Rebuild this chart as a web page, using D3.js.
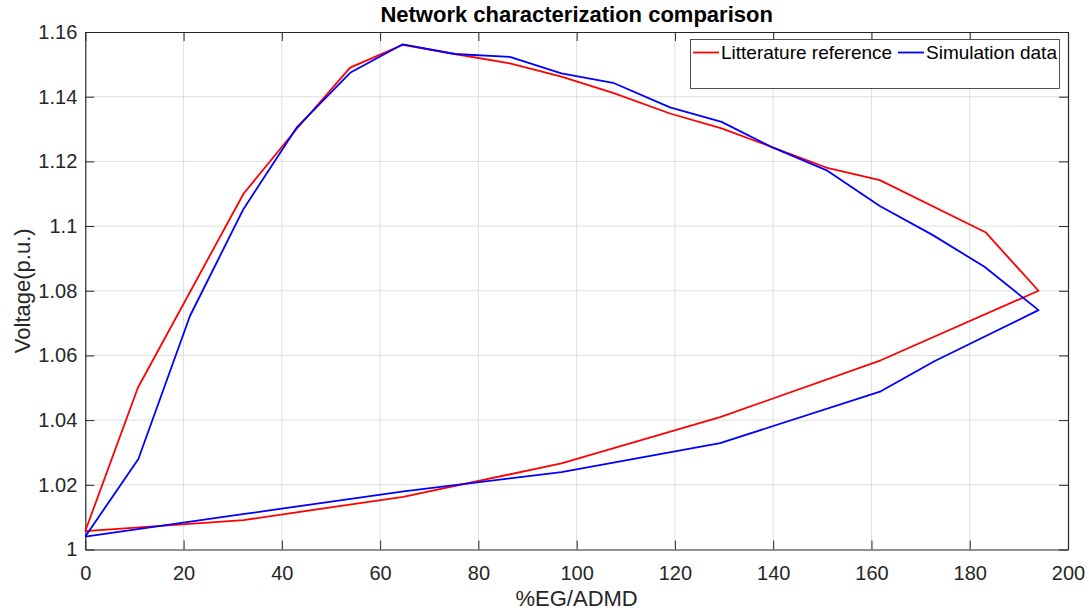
<!DOCTYPE html>
<html>
<head>
<meta charset="utf-8">
<script src="https://cdn.jsdelivr.net/npm/d3@7"></script>
<style>
  body { margin: 0; background: #fff; }
  text { font-family: "Liberation Sans", Arial, Helvetica, sans-serif; }
</style>
</head>
<body>
<div id="chartArea"></div>
<script>
// values
var refX = [0, 10.7, 32.2, 43.0, 53.9, 64.6, 75.2, 86.4, 96.9, 107.4, 119.0, 129.5, 139.6, 150.8, 161.7, 183.2, 194.0,
            161.9, 129.2, 96.9, 64.7, 32.2, 0];
var refY = [1.0057, 1.050, 1.110, 1.130, 1.149, 1.156, 1.1532, 1.1503, 1.1462, 1.1412, 1.1348, 1.1302, 1.1245, 1.1181, 1.1142, 1.0981, 1.080,
            1.0585, 1.0409, 1.0266, 1.0163, 1.0091, 1.0057];

var simX = [0, 10.8, 21.3, 32.2, 43.0, 53.9, 64.6, 75.2, 86.4, 96.9, 107.4, 119.0, 129.5, 139.6, 150.8, 161.7, 172.5, 183.0, 194.0,
            172.8, 161.9, 129.2, 96.9, 64.8, 32.4, 0];
var simY = [1.004, 1.028, 1.0722, 1.1053, 1.1304, 1.1474, 1.1562, 1.1532, 1.1523, 1.1472, 1.1443, 1.1367, 1.1322, 1.1245, 1.1173, 1.1062, 1.0972, 1.0874, 1.074,
            1.0582, 1.0489, 1.0329, 1.0239, 1.018, 1.011, 1.004];

var xTicks = [0, 20, 40, 60, 80, 100, 120, 140, 160, 180, 200];
var yTicks = [1, 1.02, 1.04, 1.06, 1.08, 1.1, 1.12, 1.14, 1.16];

var seriesNames = ['Litterature reference', 'Simulation data'];
var seriesColors = ['#ff0000', '#0000ff'];

var w = 1089, h = 614;
var plotL = 85.3, plotR = 1068, plotT = 32, plotB = 549.5;
var axisColor = '#262626';

var svg = d3.select('#chartArea').append('svg')
    .attr('width', w)
    .attr('height', h);

var xScale = d3.scaleLinear().domain([0, 200]).range([plotL, plotR]);
var yScale = d3.scaleLinear().domain([1, 1.16]).range([plotB, plotT]);

// grid
svg.append('g').selectAll('line')
    .data(xTicks.slice(1, -1))
    .enter().append('line')
    .attr('x1', xScale).attr('x2', xScale)
    .attr('y1', plotT).attr('y2', plotB)
    .attr('stroke', '#dfdfdf').attr('stroke-width', 1);
svg.append('g').selectAll('line')
    .data(yTicks.slice(1, -1))
    .enter().append('line')
    .attr('y1', yScale).attr('y2', yScale)
    .attr('x1', plotL).attr('x2', plotR)
    .attr('stroke', '#dfdfdf').attr('stroke-width', 1);

// axes (ticks inside, box on)
var tickLen = 9;
var xAxis = svg.append('g')
    .attr('transform', 'translate(0,' + plotB + ')')
    .call(d3.axisBottom(xScale).tickValues(xTicks).tickSizeInner(-tickLen).tickSizeOuter(0).tickPadding(16));
var yAxis = svg.append('g')
    .attr('transform', 'translate(' + plotL + ',0)')
    .call(d3.axisLeft(yScale).tickValues(yTicks).tickFormat(d3.format('')).tickSizeInner(-tickLen).tickSizeOuter(0).tickPadding(8));
var xTop = svg.append('g')
    .attr('transform', 'translate(0,' + plotT + ')')
    .call(d3.axisTop(xScale).tickValues(xTicks).tickSizeInner(-tickLen).tickSizeOuter(0).tickFormat(''));
var yRight = svg.append('g')
    .attr('transform', 'translate(' + plotR + ',0)')
    .call(d3.axisRight(yScale).tickValues(yTicks).tickSizeInner(-tickLen).tickSizeOuter(0).tickFormat(''));

[xAxis, yAxis, xTop, yRight].forEach(function (g) {
    g.select('.domain').attr('stroke', axisColor).attr('stroke-width', 1.2);
    g.selectAll('.tick line').attr('stroke', axisColor).attr('stroke-width', 1);
    g.selectAll('.tick text')
        .attr('fill', axisColor)
        .style('font-size', '20px')
        .style('font-family', '"Liberation Sans", Arial, sans-serif');
});
xAxis.selectAll('.tick text').attr('dy', '0.71em');

// series
var line = d3.line()
    .x(function (d) { return xScale(d[0]); })
    .y(function (d) { return yScale(d[1]); });

var series = [d3.zip(refX, refY), d3.zip(simX, simY)];

svg.append('g').selectAll('path')
    .data(series)
    .enter().append('path')
    .attr('d', line)
    .attr('fill', 'none')
    .attr('stroke', function (d, i) { return seriesColors[i]; })
    .attr('stroke-width', 1.8)
    .attr('stroke-linejoin', 'round');

// title and labels
svg.append('text')
    .attr('x', (plotL + plotR) / 2).attr('y', 22)
    .attr('text-anchor', 'middle')
    .style('font-size', '22px').style('font-weight', 'bold')
    .attr('fill', '#000')
    .text('Network characterization comparison');

svg.append('text')
    .attr('x', (plotL + plotR) / 2).attr('y', 606)
    .attr('text-anchor', 'middle')
    .style('font-size', '22px')
    .attr('fill', axisColor)
    .text('%EG/ADMD');

svg.append('text')
    .attr('transform', 'translate(30,' + ((plotT + plotB) / 2) + ') rotate(-90)')
    .attr('text-anchor', 'middle')
    .style('font-size', '22px')
    .attr('fill', axisColor)
    .text('Voltage(p.u.)');

// legend
var legend = svg.append('g');
legend.append('rect')
    .attr('x', 690.5).attr('y', 39.5)
    .attr('width', 369).attr('height', 49)
    .attr('fill', '#fff')
    .attr('stroke', axisColor).attr('stroke-width', 0.8);

var legendX = [693, 898];
seriesNames.forEach(function (name, i) {
    legend.append('line')
        .attr('x1', legendX[i]).attr('x2', legendX[i] + 26)
        .attr('y1', 52.5).attr('y2', 52.5)
        .attr('stroke', seriesColors[i]).attr('stroke-width', 1.8);
    legend.append('text')
        .attr('x', legendX[i] + 28).attr('y', 59)
        .style('font-size', '19px')
        .attr('fill', '#000')
        .text(name);
});
</script>
</body>
</html>
